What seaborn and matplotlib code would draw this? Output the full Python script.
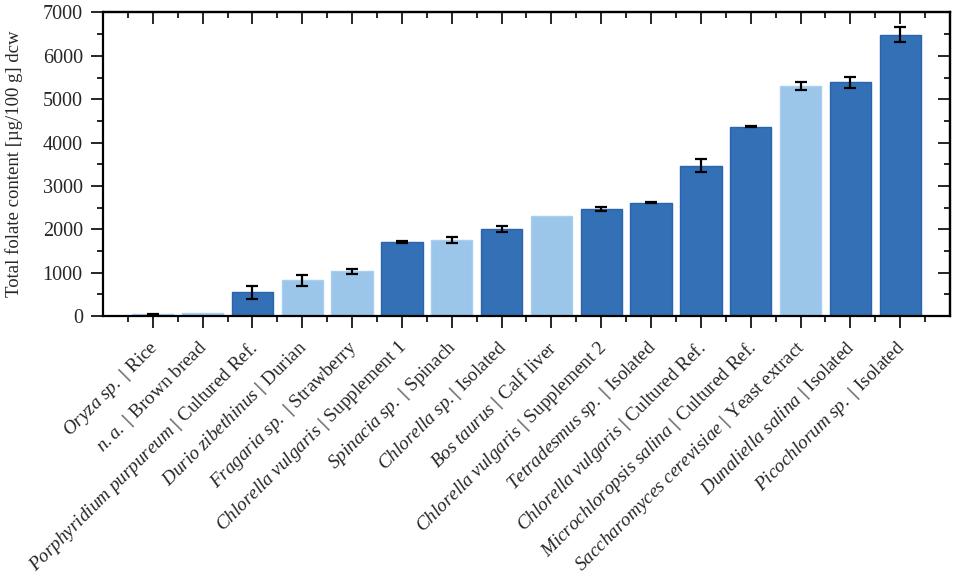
import numpy as np
import pandas as pd
import matplotlib
matplotlib.use("Agg")
import matplotlib.pyplot as plt
import matplotlib.transforms as mtransforms
import seaborn as sns
from matplotlib.ticker import MultipleLocator

categories = [
    r"$\mathit{Oryza\ sp.}$ | Rice",
    r"$\mathit{n.a.}$ | Brown bread",
    r"$\mathit{Porphyridium\ purpureum}$ | Cultured Ref.",
    r"$\mathit{Durio\ zibethinus}$ | Durian",
    r"$\mathit{Fragaria\ sp.}$ | Strawberry",
    r"$\mathit{Chlorella\ vulgaris}$ | Supplement 1",
    r"$\mathit{Spinacia\ sp.}$ | Spinach",
    r"$\mathit{Chlorella\ sp.}$| Isolated",
    r"$\mathit{Bos\ taurus}$ | Calf liver",
    r"$\mathit{Chlorella\ vulgaris}$ | Supplement 2",
    r"$\mathit{Tetradesmus\ sp.}$ | Isolated",
    r"$\mathit{Chlorella\ vulgaris}$ | Cultured Ref.",
    r"$\mathit{Microchloropsis\ salina}$ | Cultured Ref.",
    r"$\mathit{Saccharomyces\ cerevisiae}$ | Yeast extract",
    r"$\mathit{Dunaliella\ salina}$ | Isolated",
    r"$\mathit{Picochlorum\ sp.}$ | Isolated",
]
values = [40, 70, 550, 820, 1030, 1700, 1750, 2010, 2305, 2465, 2610, 3470, 4370, 5300, 5390, 6490]
errors = [15, 0, 150, 130, 50, 20, 75, 65, 0, 50, 15, 140, 12, 95, 130, 165]
groups = ["Other", "Other", "Microalgae", "Other", "Other", "Microalgae", "Other",
          "Microalgae", "Other", "Microalgae", "Microalgae", "Microalgae",
          "Microalgae", "Other", "Microalgae", "Microalgae"]

palette = {"Microalgae": "#3370b5", "Other": "#9bc6ea"}
edges = {"Microalgae": "#2a64ad", "Other": "#a8cff0"}

df = pd.DataFrame({"cat": categories, "val": values, "err": errors, "grp": groups})

sns.set_style("ticks")
plt.rcParams["font.family"] = ["Liberation Serif", "DejaVu Serif"]
plt.rcParams["mathtext.fontset"] = "custom"
plt.rcParams["mathtext.rm"] = "Liberation Serif"
plt.rcParams["mathtext.it"] = "Liberation Serif:italic"
plt.rcParams["mathtext.bf"] = "Liberation Serif:bold"

FS = 13.8

fig = plt.figure(figsize=(9.57, 5.78), dpi=100)
ax = fig.add_axes([0.1076, 0.4533, 0.8851, 0.5251])

sns.barplot(data=df, x="cat", y="val", hue="grp", palette=palette, dodge=False,
            width=0.83, legend=False, ax=ax, errorbar=None, order=categories,
            saturation=1)
bars = sorted(ax.patches, key=lambda p: p.get_x())
for p, g in zip(bars, groups):
    p.set_edgecolor(edges[g])
    p.set_linewidth(1.0)

xpos = np.arange(len(categories))
err_mask = np.array(errors) > 0
ax.errorbar(xpos[err_mask], np.array(values)[err_mask], yerr=np.array(errors)[err_mask],
            fmt="none", ecolor="black", elinewidth=1.6, capsize=4.5, capthick=1.6, zorder=5)

ax.set_xlim(-1, len(categories))
ax.set_ylim(0, 7000)
ax.yaxis.set_major_locator(MultipleLocator(1000))
ax.yaxis.set_minor_locator(MultipleLocator(500))
ax.set_xticks(xpos)
ax.set_xticks(np.arange(-0.5, len(categories) + 0.5, 1.0), minor=True)

ax.set_xticklabels(categories, rotation=45, ha="right", rotation_mode="anchor", fontsize=FS)
ax.set_xlabel("")
ax.set_ylabel("Total folate content [µg/100 g] dcw", fontsize=13.5)
ax.yaxis.set_label_coords(-0.094, 0.5)
ax.tick_params(axis="y", labelsize=14.5)

for s in ax.spines.values():
    s.set_linewidth(1.6)
    s.set_color("black")
    s.set_visible(True)

ax.tick_params(which="major", direction="out", length=8.5, width=1.4,
               bottom=True, left=True, top=False, right=False)
ax.tick_params(which="minor", direction="out", length=4.5, width=1.4,
               bottom=True, left=True, top=False, right=False)
ax.tick_params(axis="x", which="major", pad=4)
ax.tick_params(axis="y", which="major", pad=6)

# top and right ticks pointing inward
secx = ax.secondary_xaxis("top")
secx.set_xticks(xpos)
secx.set_xticks(np.arange(-0.5, len(categories) + 0.5, 1.0), minor=True)
secx.tick_params(which="major", direction="in", length=8.5, width=1.4, labeltop=False)
secx.tick_params(which="minor", direction="in", length=4.5, width=1.4)
secx.spines["top"].set_linewidth(1.6)

secy = ax.secondary_yaxis("right")
secy.yaxis.set_major_locator(MultipleLocator(1000))
secy.yaxis.set_minor_locator(MultipleLocator(500))
secy.tick_params(which="major", direction="in", length=8.5, width=1.4, labelright=False)
secy.tick_params(which="minor", direction="in", length=4.5, width=1.4)
secy.spines["right"].set_linewidth(1.6)

# shift x tick labels slightly along the rotated baseline
offset = mtransforms.ScaledTranslation(-5 / 100, -4 / 100, fig.dpi_scale_trans)
for lbl in ax.get_xticklabels():
    lbl.set_transform(lbl.get_transform() + offset)

fig.savefig("out.png", dpi=100)
